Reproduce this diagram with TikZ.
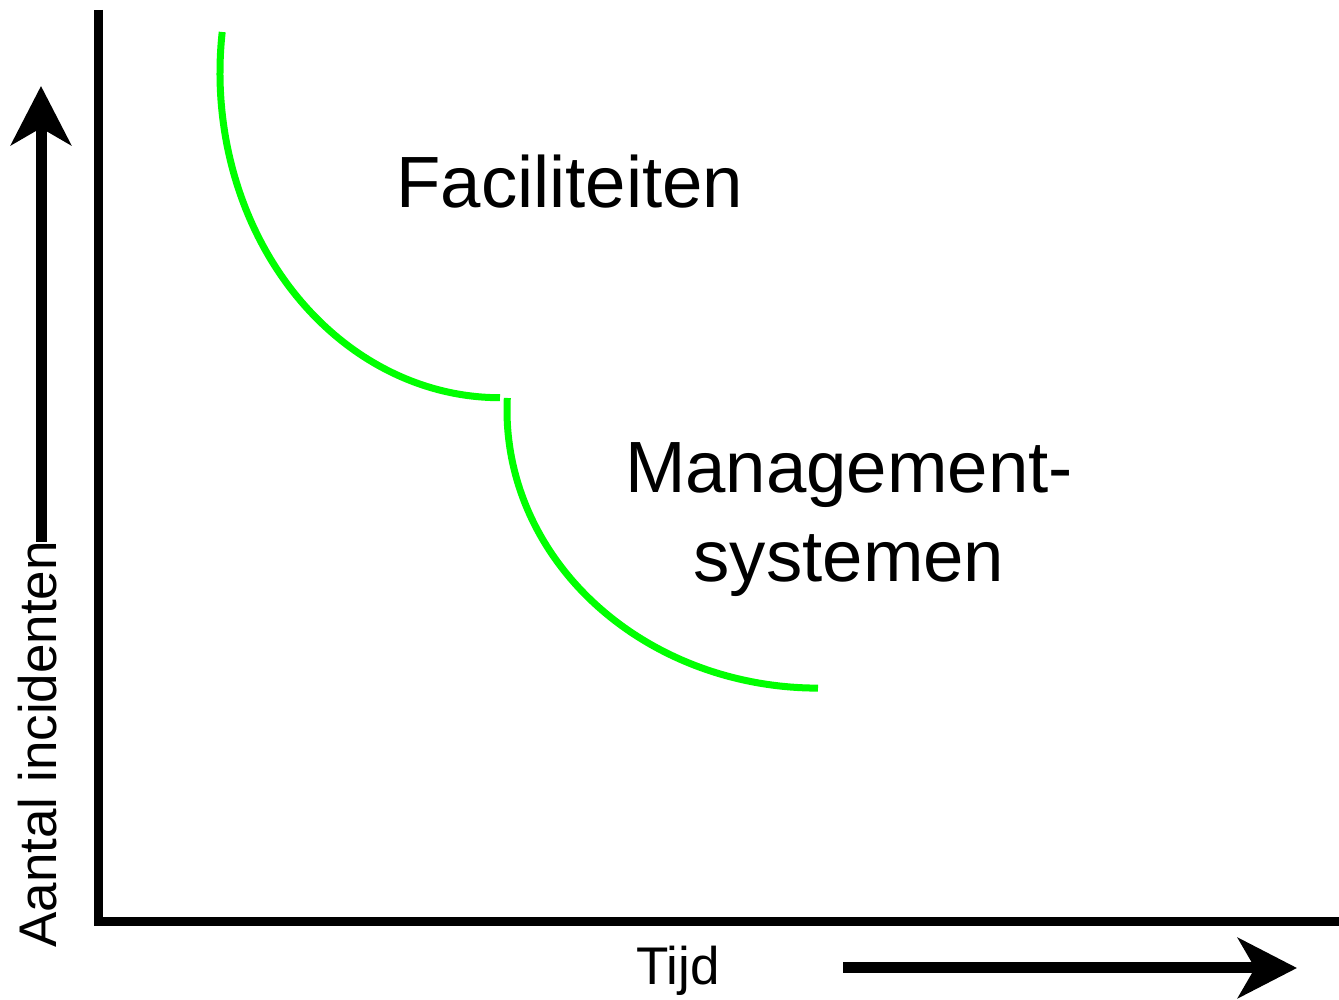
\documentclass[tikz,border=0pt]{standalone}
\usepackage{fontspec}
\setmainfont{Liberation Sans}
\usetikzlibrary{arrows.meta}
\definecolor{curvegreen}{RGB}{0,255,0}
\begin{document}
\begin{tikzpicture}[x=0.5pt, y=0.5pt,
    axis/.style={line width=4.5pt, line join=miter},
    curve/.style={line width=3.5pt, curvegreen},
    bigarrow/.style={line width=5.5pt, -{Stealth[length=29.5pt, width=30pt, inset=8.5pt]}},
    biglabel/.style={font=\fontsize{36.3}{44}\selectfont, inner sep=0pt},
    axislabel/.style={font=\fontsize{26.5}{30}\selectfont, inner sep=0pt}]
    \useasboundingbox (0,0) rectangle (1339,1000);
    % Axes
    \draw[axis] (98.5,990) -- (98.5,78.5) -- (1345,78.5);
    % Axis labels
    \node[axislabel, rotate=90, anchor=base west] (ylabel) at (56,52) {Aantal incidenten};
    \node[axislabel, anchor=base west] (xlabel) at (636,15) {Tijd};
    % Axis arrows
    \coordinate (ytail) at (41,458);
    \coordinate (ytip) at (41,914);
    \coordinate (xtail) at (843,32);
    \coordinate (xtip) at (1297,32);
    \draw[bigarrow] (ytail) -- (ytip);
    \draw[bigarrow] (xtail) -- (xtip);
    % Curves
    \draw[curve] (222.2,968) arc[start angle=172.8, end angle=270, x radius=140pt, y radius=162.5pt];
    \draw[curve] (507.3,602) arc[start angle=177.5, end angle=270, x radius=155.5pt, y radius=139pt];
    % Labels
    \node[biglabel, anchor=base west] (fac) at (396,792) {Faciliteiten};
    \node[biglabel, anchor=base] (mgmt) at (849,507) {Management-};
    \node[biglabel, anchor=base] (sys) at (849,418) {systemen};
\end{tikzpicture}
\end{document}
